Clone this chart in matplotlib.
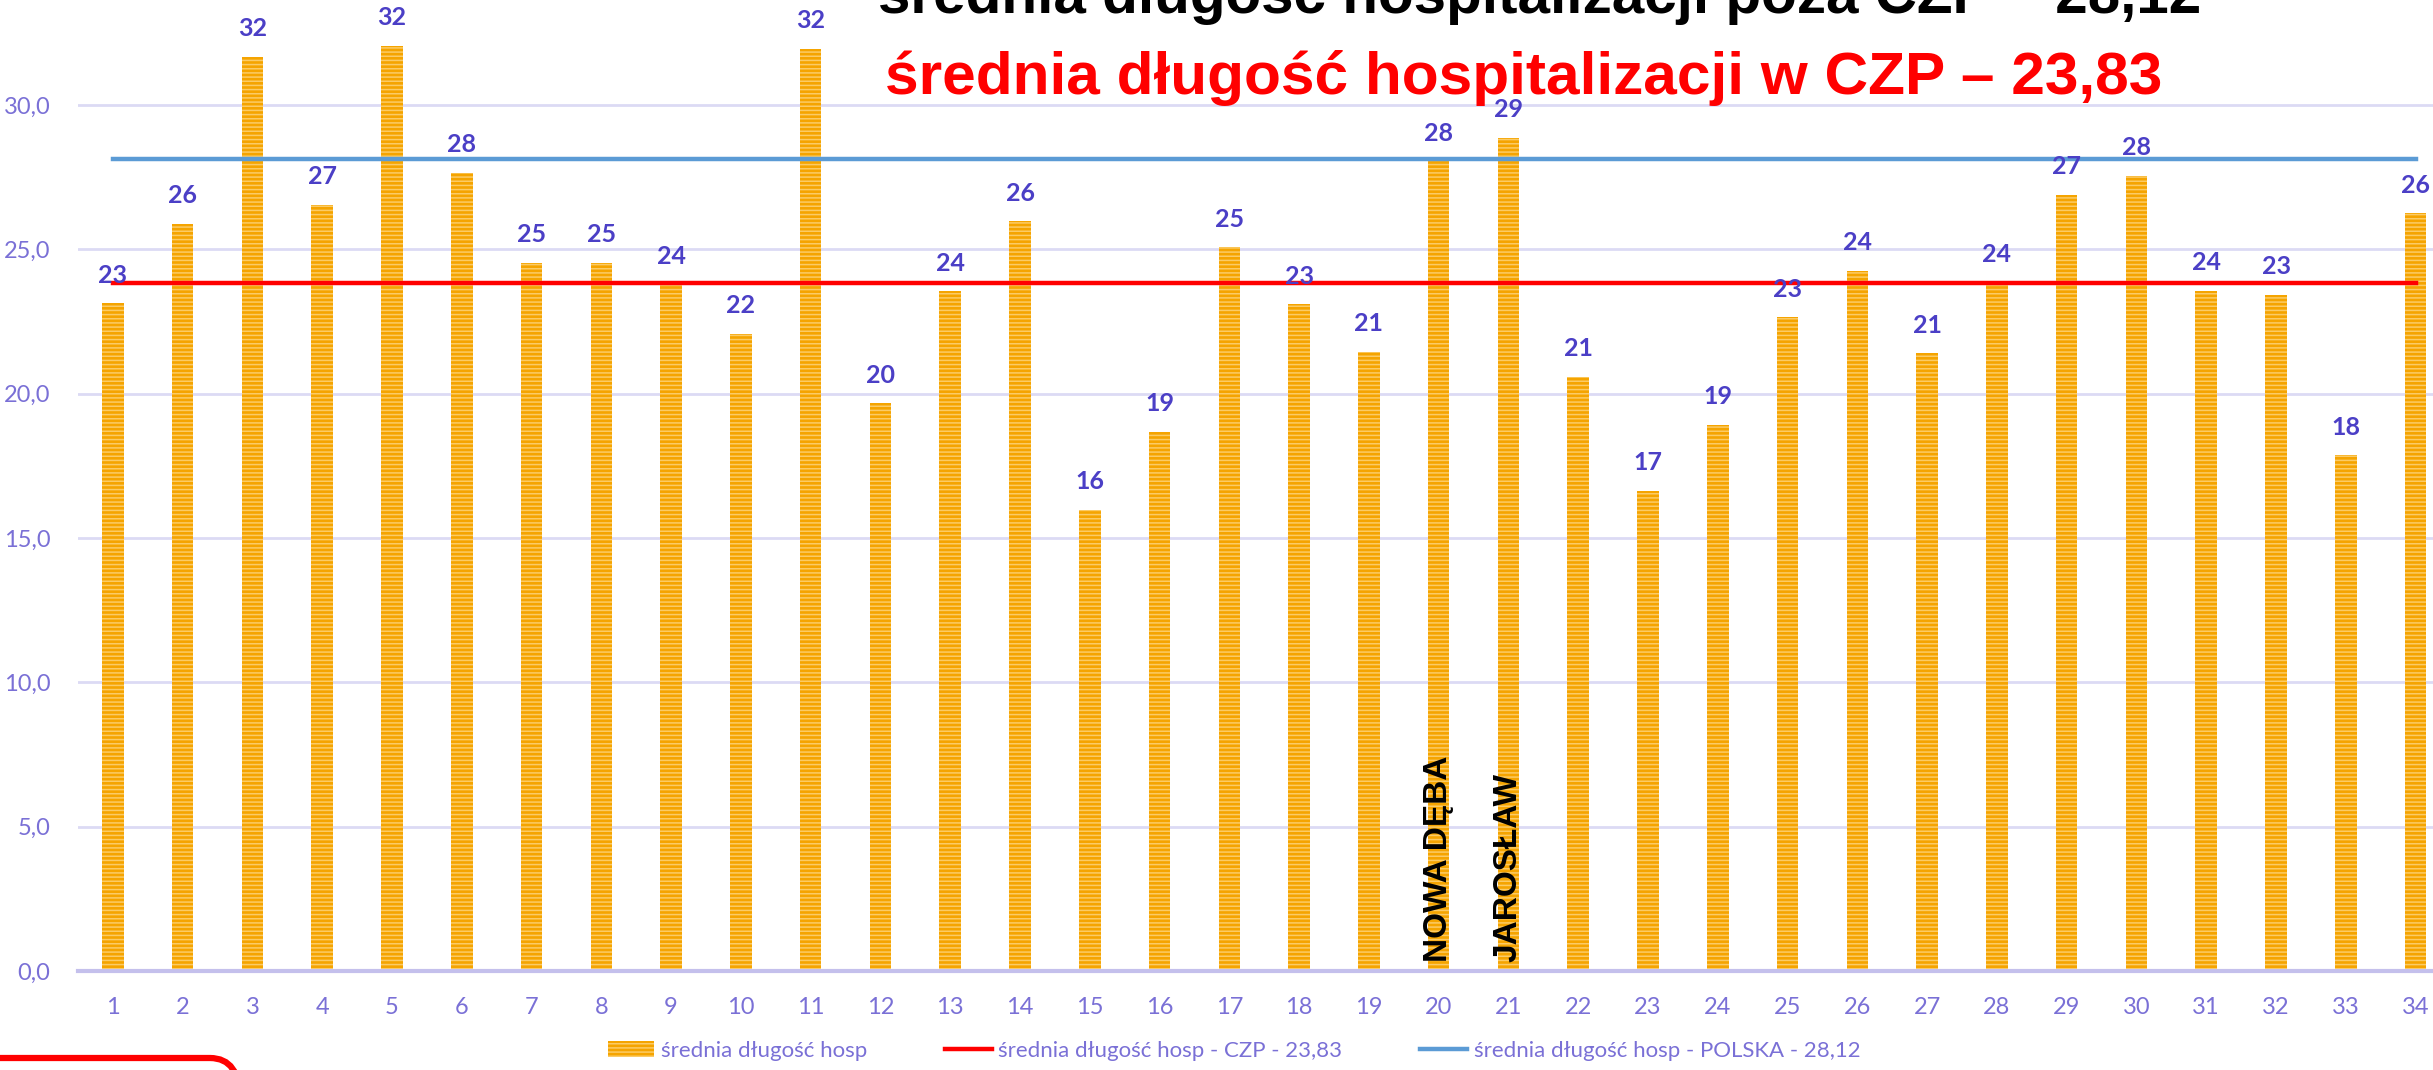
import numpy as np
import matplotlib
matplotlib.use('Agg')
import matplotlib.pyplot as plt
from matplotlib.patches import Patch, FancyBboxPatch
from matplotlib.lines import Line2D
from matplotlib.transforms import IdentityTransform

# ---------------------------------------------------------------------------
# data
# ---------------------------------------------------------------------------
hospitals = list(range(1, 35))
avg_stay = [23.13, 25.89, 31.67, 26.53, 32.05, 27.65, 24.52, 24.54, 23.76, 22.08,
            31.94, 19.66, 23.54, 25.97, 15.98, 18.67, 25.07, 23.09, 21.45, 28.05,
            28.87, 20.59, 16.63, 18.91, 22.64, 24.25, 21.39, 23.85, 26.89, 27.55,
            23.57, 23.43, 17.86, 26.24]
czp_mean = 23.83
pl_mean = 28.12
y_ticks = [0, 5, 10, 15, 20, 25, 30]
named = {20: 'NOWA DĘBA', 21: 'JAROSŁAW'}

title_pl = 'średnia długość hospitalizacji poza CZP – 28,12'
title_czp = 'średnia długość hospitalizacji w CZP – 23,83'
leg_labels = ['średnia długość hosp',
              'średnia długość hosp - CZP - 23,83',
              'średnia długość hosp - POLSKA - 28,12']

TICK_C = '#7A70D6'
LABEL_C = '#4B3FC6'
GRID_C = '#DCDAF4'
BAR_C = '#F5A400'
STRIPE_C = '#FBCB66'
RED = '#FF0000'
BLUE = '#5B9BD5'
ARIAL = ['Liberation Sans', 'DejaVu Sans']

plt.rcParams['font.family'] = ['Lato', 'DejaVu Sans']
plt.rcParams['hatch.linewidth'] = 1.1

W, H = 2433, 1070
fig = plt.figure(figsize=(W / 100, H / 100), dpi=100)
ax = fig.add_axes([78 / W, 1 - 971 / H, 1 - 78 / W, 971 / H])

x = np.array(hospitals)
ax.bar(x, avg_stay, width=0.31, color=BAR_C, edgecolor=STRIPE_C,
       linewidth=0, hatch='----', zorder=3)

for xi, v in zip(x, avg_stay):
    ax.annotate(f'{v:.0f}', (xi, v), xytext=(0, 12), textcoords='offset points',
                ha='center', va='bottom', fontsize=18, fontweight='bold',
                color=LABEL_C, zorder=5)

ax.plot([x[0], x[-1]], [czp_mean, czp_mean], color=RED, lw=3.2, zorder=4)
ax.plot([x[0], x[-1]], [pl_mean, pl_mean], color=BLUE, lw=3.2, zorder=4)

for k, name in named.items():
    ax.text(k, 0.3, name, rotation=90, ha='center', va='bottom',
            fontsize=24, fontweight='bold', color='black',
            family=ARIAL, zorder=6)

ax.set_xlim(0.5, 34.25)
ax.set_ylim(0, 971 / 28.87)
ax.set_yticks(y_ticks)
ax.set_yticklabels([f'{t:.1f}'.replace('.', ',') for t in y_ticks])
ax.set_xticks(x)
ax.set_xticklabels([str(h) for h in hospitals])
ax.tick_params(axis='both', length=0, labelsize=17, labelcolor=TICK_C)
ax.tick_params(axis='x', pad=19)
ax.tick_params(axis='y', pad=20)
ax.grid(axis='y', color=GRID_C, lw=2, zorder=0)
for s in ['top', 'right', 'left']:
    ax.spines[s].set_visible(False)
ax.spines['bottom'].set_color('#C4C0EC')
ax.spines['bottom'].set_linewidth(3)
ax.spines['bottom'].set_zorder(4)

# titles (top one is cut off by the slide edge)
fig.text(878 / W, 1 - 13 / H, title_pl, ha='left', va='baseline',
         fontsize=42, fontweight='bold', color='black', family=ARIAL)
fig.text(885 / W, 1 - 94 / H, title_czp, ha='left', va='baseline',
         fontsize=43.5, fontweight='bold', color=RED, family=ARIAL)

handles = [Patch(facecolor=BAR_C, edgecolor=STRIPE_C, hatch='----', linewidth=0),
           Line2D([], [], color=RED, lw=3.2),
           Line2D([], [], color=BLUE, lw=3.2)]
fig.legend(handles, leg_labels, loc='center', bbox_to_anchor=(1234 / W, 1 - 1051 / H),
           ncol=3, frameon=False, fontsize=16, labelcolor=TICK_C,
           handlelength=2.1, handletextpad=0.3, columnspacing=3.5)

# red rounded box peeking in at bottom-left corner
box = FancyBboxPatch((-40, -60), 280, 72, boxstyle='round,pad=0,rounding_size=30',
                     transform=IdentityTransform(), facecolor='none',
                     edgecolor=RED, linewidth=4.5)
fig.add_artist(box)

fig.savefig('out.png', dpi=100)
